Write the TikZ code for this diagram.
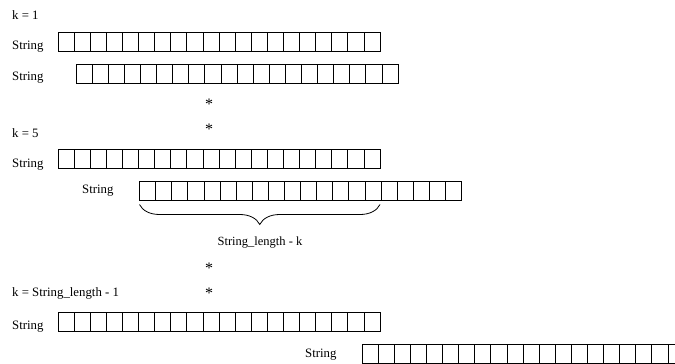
\documentclass[tikz,border=0pt]{standalone}
\usepackage{fontspec}
\setmainfont{Liberation Serif}
\usetikzlibrary{decorations.pathreplacing}
\begin{document}
\begin{tikzpicture}[x=1pt,y=-1pt,
  lbl/.style={anchor=base west,inner sep=0pt,font=\fontsize{12.8}{14}\selectfont},
  starmark/.style={anchor=base,inner sep=0pt,font=\fontsize{12.5}{14}\selectfont},
  dotstar/.style={anchor=center,inner sep=0pt,font=\fontsize{16}{16}\selectfont},
  cellline/.style={draw=black,line width=0.8pt},
  stringbox/.pic={
    \draw[cellline] (0,0) rectangle (322,19);
    \foreach \i in {1,...,19} \draw[cellline] (\i*16.1,0) -- (\i*16.1,19);
    \coordinate (-nw) at (0,0);
    \coordinate (-sw) at (0,19);
    \coordinate (-se) at (322,19);
  }]
\clip (0,0) rectangle (675,364);
% k = 1
\node[lbl] (k1) at (12,19.5) {k = 1};
\node[lbl] (l1) at (12,49) {String};
\pic (r1) at (58,32) {stringbox};
\node[lbl] (l2) at (12,80) {String};
\pic (r2) at (76,64) {stringbox};
% dots
\node[dotstar] (s1) at (209,104) {*};
\node[dotstar] (s2) at (209,129) {*};
% k = 5
\node[lbl] (k5) at (12,137) {k = 5};
\node[lbl] (l3) at (12,167) {String};
\pic (r3) at (58,149.5) {stringbox};
\node[lbl] (l4) at (82,193) {String};
\pic (r4) at (139.5,181.5) {stringbox};
\coordinate (bl) at ([yshift=-4pt]r4-sw);
\coordinate (br) at (r3-se |- bl);
\draw[line width=0.8pt,decorate,decoration={brace,amplitude=20pt}] (br) -- (bl);
\node[starmark] (lenlbl) at (260,245) {String\_length - k};
% dots
\node[dotstar] (s3) at (209,268) {*};
\node[dotstar] (s4) at (209,293) {*};
% k = String_length - 1
\node[lbl] (kn) at (12,296) {k = String\_length - 1};
\node[lbl] (l5) at (12,329) {String};
\pic (r5) at (58,312.5) {stringbox};
\node[lbl] (l6) at (305,357) {String};
\pic (r6) at (362,344) {stringbox};
\end{tikzpicture}
\end{document}
